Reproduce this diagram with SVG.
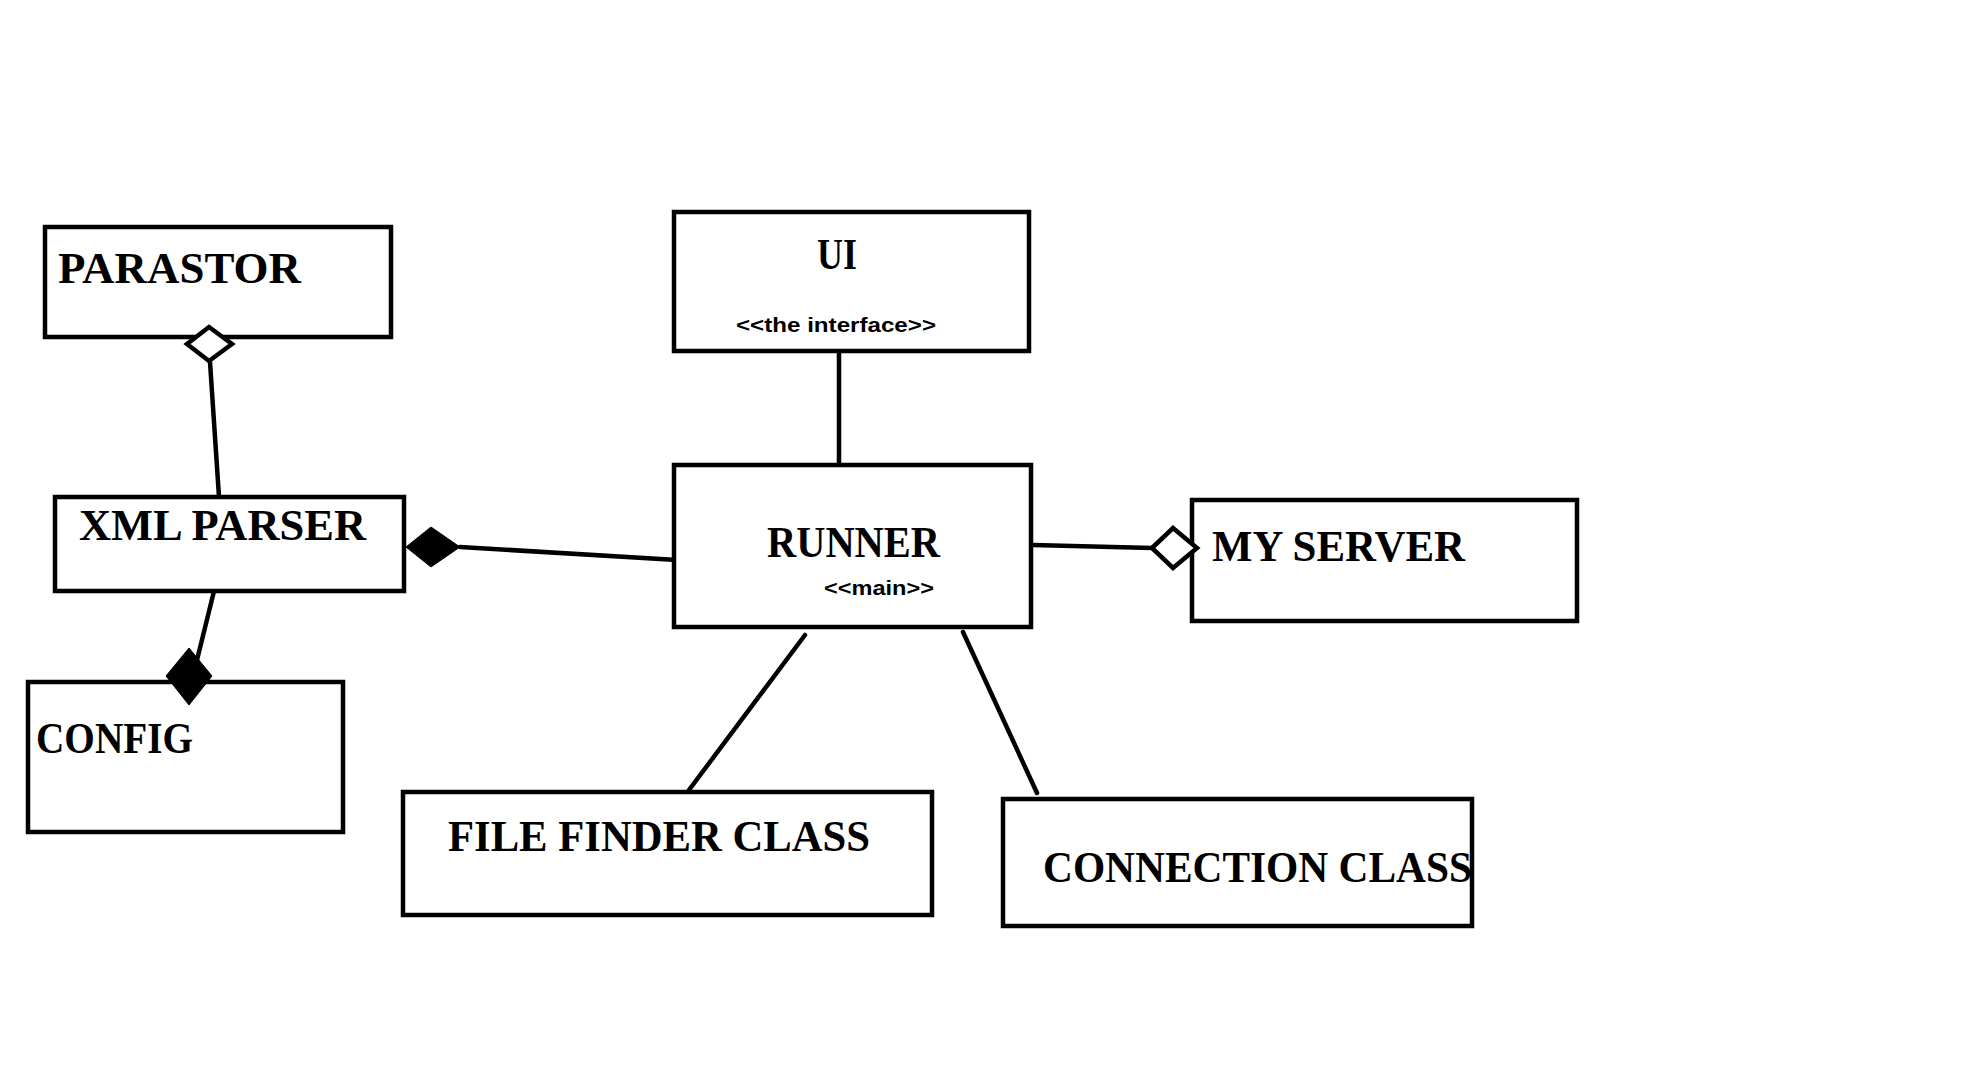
<svg xmlns="http://www.w3.org/2000/svg" width="1972" height="1086" viewBox="0 0 1972 1086">
<style>
.box{fill:#fff;stroke:#000;stroke-width:4.5}
.t{font-family:"Liberation Serif","Times New Roman",serif;font-weight:bold;font-size:45px;fill:#000}
.st{font-family:"Liberation Sans",Arial,sans-serif;font-weight:bold;font-size:21px;fill:#000}
.ln{stroke:#000;stroke-width:4.5;fill:none;stroke-linecap:round}
.hol{fill:#fff;stroke:#000;stroke-width:4.5}
.fil{fill:#000;stroke:#000;stroke-width:1}
</style>
<rect width="1972" height="1086" fill="#fff"/>
<g id="connectors">
<line class="ln" x1="210" y1="362" x2="219" y2="497"/>
<line class="ln" x1="216" y1="583" x2="197" y2="660"/>
<line class="ln" x1="460" y1="547" x2="677" y2="560"/>
<line class="ln" x1="839" y1="353" x2="839" y2="469"/>
<line class="ln" x1="1033" y1="545" x2="1152" y2="548"/>
<line class="ln" x1="805" y1="635" x2="689" y2="790"/>
<line class="ln" x1="963" y1="632" x2="1037" y2="793"/>
</g>
<g id="parastor">
<rect class="box" x="45" y="227" width="346" height="110"/>
<text class="t" x="58" y="283" textLength="243" lengthAdjust="spacingAndGlyphs">PARASTOR</text>
</g>
<g id="xml-parser">
<rect class="box" x="55" y="497" width="349" height="94"/>
<text class="t" x="79" y="540" textLength="287" lengthAdjust="spacingAndGlyphs">XML PARSER</text>
</g>
<g id="config">
<rect class="box" x="28" y="682" width="315" height="150"/>
<text class="t" x="36" y="753" textLength="157" lengthAdjust="spacingAndGlyphs">CONFIG</text>
</g>
<g id="ui">
<rect class="box" x="674" y="212" width="355" height="139"/>
<text class="t" x="817" y="269" textLength="40" lengthAdjust="spacingAndGlyphs">UI</text>
<text class="st" x="736" y="332" textLength="200" lengthAdjust="spacingAndGlyphs">&lt;&lt;the interface&gt;&gt;</text>
</g>
<g id="runner">
<rect class="box" x="674" y="465" width="357" height="162"/>
<text class="t" x="767" y="557" textLength="173" lengthAdjust="spacingAndGlyphs">RUNNER</text>
<text class="st" x="824" y="595" textLength="110" lengthAdjust="spacingAndGlyphs">&lt;&lt;main&gt;&gt;</text>
</g>
<g id="my-server">
<rect class="box" x="1192" y="500" width="385" height="121"/>
<text class="t" x="1212" y="561" textLength="253" lengthAdjust="spacingAndGlyphs">MY SERVER</text>
</g>
<g id="file-finder">
<rect class="box" x="403" y="792" width="529" height="123"/>
<text class="t" x="448" y="851" textLength="422" lengthAdjust="spacingAndGlyphs">FILE FINDER CLASS</text>
</g>
<g id="connection">
<rect class="box" x="1003" y="799" width="469" height="127"/>
<text class="t" x="1043" y="882" textLength="429" lengthAdjust="spacingAndGlyphs">CONNECTION CLASS</text>
</g>
<g id="ends">
<polygon class="hol" points="209,327 232,344 209,361 187,344"/>
<polygon class="fil" points="189,648 212,676 189,705 166,676"/>
<polygon class="fil" points="406,547 431,527 460,547 431,567"/>
<polygon class="hol" points="1152,548 1173,528 1197,548 1173,568"/>
</g>
</svg>
